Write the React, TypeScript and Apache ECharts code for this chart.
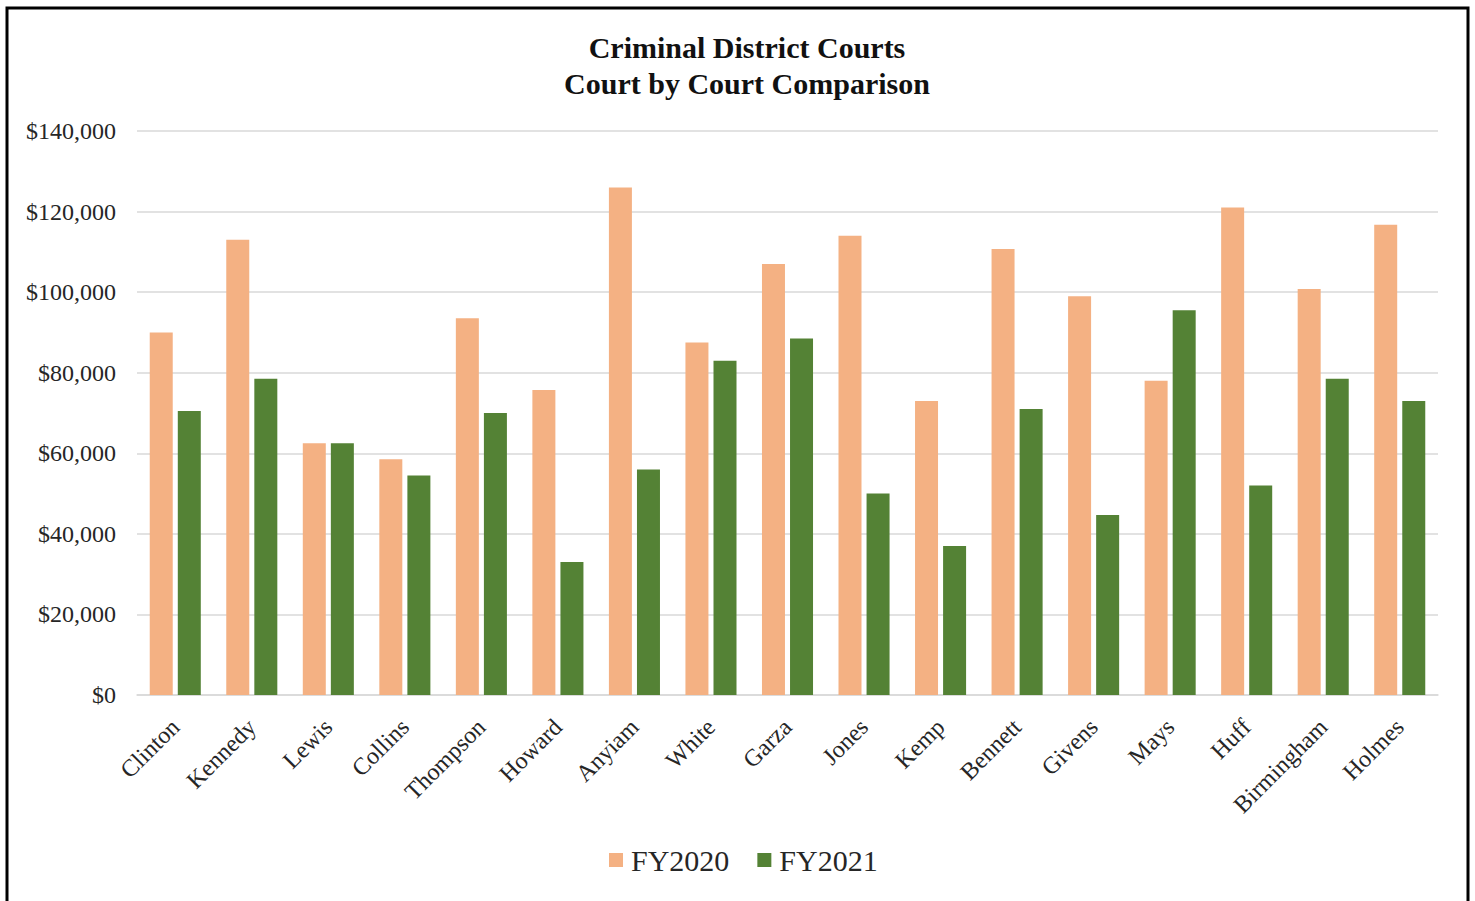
import React, { useEffect, useRef } from "react";
import * as echarts from "echarts";

const categories = [
  "Clinton", "Kennedy", "Lewis", "Collins", "Thompson", "Howard", "Anyiam", "White",
  "Garza", "Jones", "Kemp", "Bennett", "Givens", "Mays", "Huff", "Birmingham", "Holmes",
];
const fy2020 = [
  90000, 113000, 62500, 58500, 93500, 75700, 126000, 87500,
  107000, 114000, 73000, 110700, 99000, 78000, 121000, 100800, 116700,
];
const fy2021 = [
  70500, 78500, 62500, 54500, 70000, 33000, 56000, 83000,
  88500, 50000, 37000, 71000, 44700, 95500, 52000, 78500, 73000,
];
const yTicks = { min: 0, max: 140000, interval: 20000 };

const FONT = "'Liberation Serif', 'Times New Roman', serif";

export default function App() {
  const ref = useRef<HTMLDivElement>(null);
  useEffect(() => {
    if (!ref.current) return;
    const chart = echarts.init(ref.current, undefined, { renderer: "svg" });
    chart.setOption({
      animation: false,
      backgroundColor: "#ffffff",
      title: {
        text: "Criminal District Courts\nCourt by Court Comparison",
        left: 742,
        top: 24,
        textAlign: "center",
        textStyle: {
          fontFamily: FONT,
          fontSize: 30,
          fontWeight: "bold",
          color: "#111111",
          lineHeight: 36,
        },
      },
      legend: {
        data: ["FY2020", "FY2021"],
        left: 604,
        top: 840,
        icon: "rect",
        itemWidth: 14,
        itemHeight: 14,
        itemGap: 28,
        textStyle: { fontFamily: FONT, fontSize: 30, color: "#262626", padding: [0, 0, 0, 3] },
      },
      grid: { left: 137, right: 37, top: 131, bottom: 206, containLabel: false },
      xAxis: {
        type: "category",
        data: categories,
        axisLine: { lineStyle: { color: "#d9d9d9", width: 1.5 } },
        axisTick: { show: false },
        axisLabel: {
          rotate: 45,
          interval: 0,
          fontFamily: FONT,
          fontSize: 24,
          color: "#262626",
          margin: 28,
        },
      },
      yAxis: {
        type: "value",
        min: yTicks.min,
        max: yTicks.max,
        interval: yTicks.interval,
        axisLine: { show: false },
        axisTick: { show: false },
        splitLine: { lineStyle: { color: "#d9d9d9", width: 1.5 } },
        axisLabel: {
          fontFamily: FONT,
          fontSize: 24,
          color: "#262626",
          margin: 21,
          formatter: (v: number) => "$" + v.toLocaleString("en-US"),
        },
      },
      series: [
        {
          name: "FY2020",
          type: "bar",
          data: fy2020,
          barWidth: 23,
          barGap: "22%",
          itemStyle: { color: "#F4B183" },
        },
        {
          name: "FY2021",
          type: "bar",
          data: fy2021,
          barWidth: 23,
          barGap: "22%",
          itemStyle: { color: "#548235" },
        },
      ],
      graphic: [
        {
          type: "rect",
          shape: { x: 7, y: 8, width: 1461, height: 900 },
          style: { fill: "none", stroke: "#000000", lineWidth: 3 },
          silent: true,
          z: 100,
        },
      ],
    });
    return () => chart.dispose();
  }, []);
  return (
    <div
      ref={ref}
      style={{ position: "fixed", left: 0, top: 0, width: 1475, height: 901 }}
    />
  );
}
